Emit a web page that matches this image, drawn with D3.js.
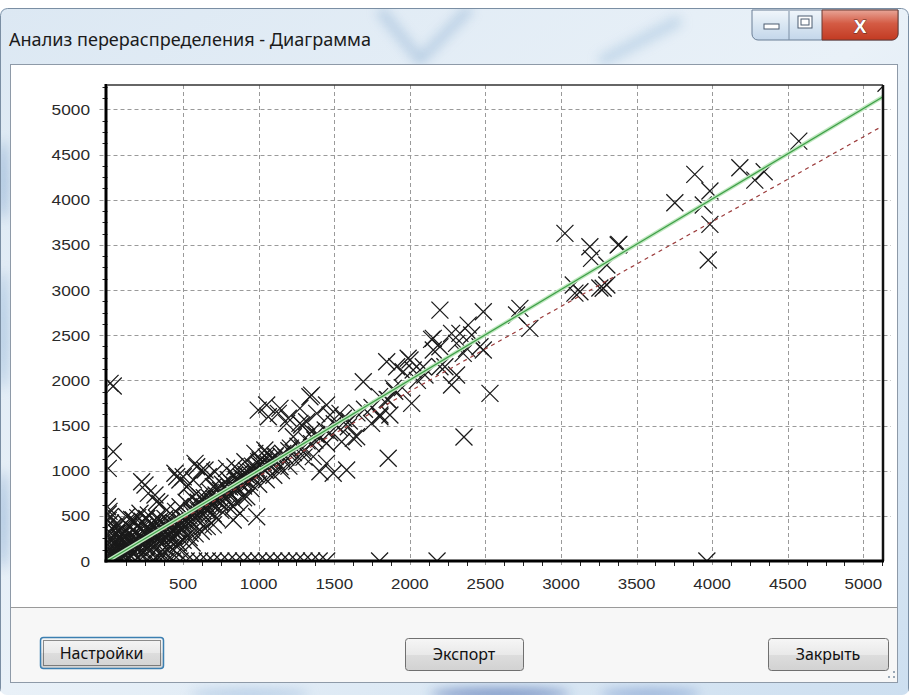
<!DOCTYPE html>
<html><head><meta charset="utf-8">
<script src="https://cdn.jsdelivr.net/npm/d3@7"></script>
<style>body{margin:0;background:#fff}svg{display:block}</style>
</head><body>
<script>
// Scatter of redistribution results: [before, after]
const points = [
  [4573,4649],[3885,4280],[4183,4354],[4344,4310],[4282,4217],[3985,4096],[3753,3966],[3941,3941],
  [3985,3727],[3974,3332],[3383,3505],[3303,3277],[3303,3055],[3257,3022],[3026,3627],[3191,3479],
  [3378,3498],[3202,3351],[3081,3055],[3125,2981],[3279,3019],[3092,2966],[2486,2760],[2728,2797],
  [2706,2723],[2794,2576],[2331,2520],[2386,2612],[2409,2502],[2309,2410],[2199,2778],[2464,2372],
  [2376,2354],[2353,2299],[2276,1948],[2530,1856],[2486,2336],[2199,2372],[2199,2150],[2358,1373],
  [2276,2520],[2144,2454],[2155,2336],[2232,2150],[2309,2059],[2155,2465],[2001,2225],
  [1847,2206],[1913,2150],[1989,2244],[2022,2114],[1956,2095],[2089,2150],[1692,1985],[1890,1911],
  [1857,1782],[2012,1745],[1802,1616],[1868,1616],[1747,1524],[1857,1137],[1802,1597],[1626,1358],
  [1350,1837],[1449,1727],[1053,1727],[1130,1635],[1196,1580],[1273,1690],[1317,1542],[1384,1635],
  [1350,1431],[1472,1616],[1538,1635],[1593,1487],[1648,1376],[1284,1505],[1229,1376],[1372,1339],
  [1449,1303],[1549,1321],[1295,1210],[1361,1155],[1449,1081],[1493,971],[1582,1007],[1405,988],
  [1053,1192],[1108,1155],[1009,1118],[1141,1044],[1141,1690],[1339,1819],[1273,1524],
  [38,1937],[17,1967],[38,1210],[5,1026],[997,1671],[1185,1524],[1064,1597],
  [248,841],[314,731],[458,933],[590,1044],[645,1007],[479,897],[524,822],[347,639],[987,490],
  [876,528],[832,454],[722,473],[634,380],[546,307],[491,343],[832,601],[921,712],[810,749],
  [744,639],[656,564],[612,712],[700,822],[568,897],[38,380],[17,490],[127,490],[171,454],
  [215,528],[270,509],[325,473],[392,564],[61,307],[83,232],
  [226,878],[270,749],[325,656],[446,971],[501,933],[579,1081],[623,1007],[534,841],[667,933],
  [711,988],[788,1026],[843,1044],[909,1099],[975,1192],[1041,1229],
  [10,20],[25,60],[40,30],[55,90],[70,50],[85,120],[100,80],[115,150],[130,100],[145,170],
  [160,130],[175,210],[190,160],[205,230],[220,190],[235,260],[250,220],[265,290],[280,250],
  [295,320],[310,270],[325,340],[340,300],[355,370],[370,330],[385,400],[400,350],
  [20,150],[30,250],[15,320],[50,200],[60,400],[80,350],[100,300],[120,420],[140,380],[160,460],
  [180,420],[200,480],[230,440],[260,470],[290,420],[150,60],[200,120],[250,160],[300,200],
  [350,230],[380,150],[420,260],[440,120],[460,300],[470,200],[200,40],[260,90],[320,120],
  [360,80],[400,180],[120,20],[80,10],[40,5],[30,100],[60,160],[90,220],[110,260],[140,300],
  [170,340],[210,360],[240,380],[270,360],[300,400],[330,420],[350,450],[380,470],
  [5,40],[12,80],[18,130],[22,180],[28,220],[35,280],[42,340],[48,60],[58,120],[66,20],
  [72,190],[78,260],[88,40],[95,150],[105,210],[112,330],[118,70],[125,180],[135,240],[142,40],
  [150,110],[158,280],[165,200],[172,90],[185,250],[195,310],[205,150],[215,270],[225,80],
  [232,330],[245,200],[255,300],[268,140],[276,340],[285,200],[298,260],[305,150],[318,300],
  [330,240],[345,330],[358,190],[368,290],[378,380],[392,260],[405,300],[415,420],[428,340],
  [438,280],[452,360],[465,330],[478,390],[490,420],[505,400],[515,460],[530,480],[545,440],
  [330,60],[380,100],[420,150],[460,180],[500,230],[540,260],[580,300],[620,330],[660,380],
  [700,400],[560,200],[480,120],
  [420,380],[440,420],[460,400],[480,450],[500,470],[520,430],[540,500],[560,520],[580,480],
  [600,560],[620,540],[640,600],[660,580],[680,640],[700,620],[720,680],[740,660],[760,720],
  [780,700],[800,760],[820,740],[840,800],[860,790],[880,850],[900,830],[920,890],[940,870],
  [960,930],[980,960],[1000,980],[1020,1040],[1040,1010],[1060,1080],[1080,1060],[1100,1120],
  [1120,1100],[1150,1160],[1180,1150],[1200,1220],[1230,1200],[1260,1270],[1290,1250],
  [1320,1330],[1350,1300],[1380,1400],[1410,1370],[1440,1450],[1470,1420],[1500,1520],
  [1530,1480],[1560,1580],[1600,1550],[1650,1640],[1700,1680],[1750,1700],[1800,1820],
  [1850,1790],[1900,1880],[1950,1920],[2050,2000],[2100,2060],
  [555,560],[575,540],[590,600],[605,520],[618,620],[630,560],[648,640],[662,610],[675,700],
  [690,660],[705,690],[718,730],[735,700],[748,780],[765,750],[778,820],[792,790],[808,820],
  [822,860],[838,840],[852,900],[868,880],[885,930],[898,910],[915,960],[930,940],[948,990],
  [965,1000],[985,1030],[1005,1060],[1030,1090],[1070,1110],[1110,1170],[1160,1190],[1210,1250],
  [450,550],[480,600],[520,650],[560,700],[600,650],[640,700],[680,760],[720,800],[760,850],
  [800,900],[840,950],[880,980],[920,1000],[960,1050],[1000,1100],[1050,1150],[500,350],
  [550,400],[600,450],[650,480],[700,520],[750,560],[800,600],[850,650],[900,700],[950,800],
  [1000,850],[1050,900],[1100,950],[1150,1000],[1200,1050],[1250,1100],[1300,1150],
  [0,600],[5,450],[10,550],[15,100],[10,200],[20,420],[5,520],
  [260,0],[300,0],[340,0],[390,0],[430,0],[480,0],[520,0],[570,0],[610,0],[660,0],[700,0],
  [750,0],[800,0],[850,0],[900,0],[950,0],[1000,0],[1050,0],[1100,0],[1150,0],[1200,0],
  [1250,0],[1300,0],[1350,0],[1400,0],[1450,0],[1800,0],[2180,0],[3965,0],
  [5150,5290]
];

const xTicks = [500,1000,1500,2000,2500,3000,3500,4000,4500,5000];
const yTicks = [0,500,1000,1500,2000,2500,3000,3500,4000,4500,5000];
const xDomain = [0,5130];
const yDomain = [0,5270];
const fitLine = [[0,0],[5130,5140]];
const refLine = [[0,0],[5100,4790]];

const W = 909, H = 695;
const plot = {left:107.5, right:883, top:85, bottom:561};

const svg = d3.select("body").append("svg").attr("width",W).attr("height",H);
const defs = svg.append("defs");

// window frame glass
const g1 = defs.append("linearGradient").attr("id","glass").attr("x1",0).attr("y1",0).attr("x2",1).attr("y2",1);
g1.append("stop").attr("offset","0%").attr("stop-color","#dce8f3");
g1.append("stop").attr("offset","50%").attr("stop-color","#e9f1f8");
g1.append("stop").attr("offset","100%").attr("stop-color","#cddff0");
defs.append("filter").attr("id","soft").attr("x","-50%").attr("y","-50%").attr("width","200%").attr("height","200%")
  .append("feGaussianBlur").attr("stdDeviation",6);
defs.append("clipPath").attr("id","frameClip").append("rect")
  .attr("x",0).attr("y",8).attr("width",W).attr("height",H-8).attr("rx",7);
defs.append("clipPath").attr("id","plotClip").append("rect")
  .attr("x",plot.left).attr("y",plot.top).attr("width",plot.right-plot.left).attr("height",plot.bottom-plot.top);

svg.append("rect").attr("width",W).attr("height",H).attr("fill","#ffffff");
const frame = svg.append("g").attr("clip-path","url(#frameClip)");
frame.append("rect").attr("x",0).attr("y",8).attr("width",W).attr("height",H-8).attr("fill","url(#glass)");
// glass streaks
const streaks = frame.append("g").attr("filter","url(#soft)").attr("opacity",0.55);
streaks.append("path").attr("d","M380,10 L420,60 L470,8").attr("fill","none").attr("stroke","#8fb1d3").attr("stroke-width",9);
streaks.append("path").attr("d","M600,62 L680,20").attr("fill","none").attr("stroke","#9fbfdc").attr("stroke-width",10);
streaks.append("ellipse").attr("cx",3).attr("cy",180).attr("rx",5).attr("ry",40).attr("fill","#6f98c6");
streaks.append("ellipse").attr("cx",3).attr("cy",330).attr("rx",5).attr("ry",60).attr("fill","#7ea6cf");
streaks.append("ellipse").attr("cx",3).attr("cy",520).attr("rx",5).attr("ry",50).attr("fill","#6f98c6");
streaks.append("ellipse").attr("cx",500).attr("cy",694).attr("rx",70).attr("ry",6).attr("fill","#2c4f9e");
streaks.append("ellipse").attr("cx",650).attr("cy",694).attr("rx",50).attr("ry",5).attr("fill","#5a7fc0");
streaks.append("ellipse").attr("cx",250).attr("cy",694).attr("rx",60).attr("ry",5).attr("fill","#8fb1d8");
frame.append("rect").attr("x",0.5).attr("y",8.5).attr("width",W-1).attr("height",H).attr("rx",7)
  .attr("fill","none").attr("stroke","#7a8ea3").attr("stroke-width",1);

// title
svg.append("text").attr("x",9).attr("y",46)
  .attr("font-family","'Noto Sans', 'Open Sans', sans-serif").attr("font-size",18).attr("fill","#1b1b1b")
  .attr("textLength",362).attr("lengthAdjust","spacingAndGlyphs")
  .text("Анализ перераспределения - Диаграмма");

// caption buttons
const cap = svg.append("g");
const gMin = defs.append("linearGradient").attr("id","capBtn").attr("x1",0).attr("y1",0).attr("x2",0).attr("y2",1);
gMin.append("stop").attr("offset","0%").attr("stop-color","#f1f6fb");
gMin.append("stop").attr("offset","50%").attr("stop-color","#d9e6f2");
gMin.append("stop").attr("offset","100%").attr("stop-color","#c3d6ea");
const gClose = defs.append("linearGradient").attr("id","closeBtn").attr("x1",0).attr("y1",0).attr("x2",0).attr("y2",1);
gClose.append("stop").attr("offset","0%").attr("stop-color","#e8a597");
gClose.append("stop").attr("offset","45%").attr("stop-color","#d45b44");
gClose.append("stop").attr("offset","100%").attr("stop-color","#c23a22");
cap.append("path").attr("d","M752,10 h146 v24 a6,6 0 0 1 -6,6 h-134 a6,6 0 0 1 -6,-6 z")
  .attr("fill","url(#capBtn)").attr("stroke","#6b7f96").attr("stroke-width",1);
cap.append("path").attr("d","M822,10 h76 v24 a6,6 0 0 1 -6,6 h-70 z")
  .attr("fill","url(#closeBtn)").attr("stroke","#6b3a33").attr("stroke-width",1);
cap.append("line").attr("x1",789).attr("x2",789).attr("y1",11).attr("y2",40).attr("stroke","#7d8fa5");
cap.append("rect").attr("x",764).attr("y",24).attr("width",15).attr("height",5).attr("fill","#ffffff").attr("stroke","#4d5d70");
cap.append("rect").attr("x",798).attr("y",16).attr("width",14).attr("height",12).attr("fill","#ffffff").attr("stroke","#4d5d70");
cap.append("rect").attr("x",801).attr("y",19).attr("width",8).attr("height",6).attr("fill","none").attr("stroke","#4d5d70");
cap.append("text").attr("x",860).attr("y",33).attr("text-anchor","middle")
  .attr("font-family","'Liberation Sans', Arial, sans-serif").attr("font-weight","bold").attr("font-size",19)
  .attr("fill","#ffffff").attr("stroke","#5a2a22").attr("stroke-width",0.8).attr("paint-order","stroke").text("X");

// client area
svg.append("rect").attr("x",10.5).attr("y",64.5).attr("width",887).attr("height",618)
  .attr("fill","#ffffff").attr("stroke","#8e9aa8");
svg.append("rect").attr("x",11).attr("y",608).attr("width",886).attr("height",74).attr("fill","#f7f7f7");
svg.append("line").attr("x1",11).attr("x2",897).attr("y1",607.5).attr("y2",607.5).attr("stroke","#9a9a9a");

// scales
const x = d3.scaleLinear().domain(xDomain).range([plot.left, plot.right]);
const y = d3.scaleLinear().domain(yDomain).range([plot.bottom, plot.top]);

const chart = svg.append("g");
// grid
const grid = chart.append("g").attr("stroke","#9a9a9a").attr("stroke-width",1).attr("stroke-dasharray","4,3");
grid.selectAll("line.h").data(yTicks.filter(d=>d>0)).join("line")
  .attr("x1",plot.left-8).attr("x2",plot.right+8)
  .attr("y1",d=>Math.round(y(d))+0.5).attr("y2",d=>Math.round(y(d))+0.5);
grid.selectAll("line.v").data(xTicks).join("line")
  .attr("y1",plot.top).attr("y2",plot.bottom+6)
  .attr("x1",d=>Math.round(x(d))+0.5).attr("x2",d=>Math.round(x(d))+0.5);

// minor ticks
const minorX = d3.range(125, xDomain[1], 125).filter(v=>v%500!==0);
const minorY = d3.range(125, yDomain[1], 125).filter(v=>v%500!==0);
const ticks = chart.append("g").attr("stroke","#222").attr("stroke-width",1);
ticks.selectAll("line.mx").data(minorX).join("line")
  .attr("x1",d=>Math.round(x(d))+0.5).attr("x2",d=>Math.round(x(d))+0.5)
  .attr("y1",plot.bottom).attr("y2",plot.bottom+5);
ticks.selectAll("line.my").data(minorY).join("line")
  .attr("y1",d=>Math.round(y(d))+0.5).attr("y2",d=>Math.round(y(d))+0.5)
  .attr("x1",plot.left-5).attr("x2",plot.left);

// markers
const marks = chart.append("g").attr("clip-path","url(#plotClip)");
marks.selectAll("path").data(points).join("path")
  .attr("transform",d=>`translate(${x(d[0])},${y(d[1])})`)
  .attr("d","M-8.5,-8.5L8.5,8.5M-8.5,8.5L8.5,-8.5")
  .attr("stroke","#1a1a1a").attr("stroke-width",1.25).attr("fill","none");

// reference lines
const line = d3.line().x(d=>x(d[0])).y(d=>y(d[1]));
const lines = chart.append("g").attr("clip-path","url(#plotClip)").attr("fill","none");
lines.append("path").attr("d",line(refLine)).attr("stroke","#9c3c3c").attr("stroke-width",1.2).attr("stroke-dasharray","4,4");
lines.append("path").attr("d",line(fitLine)).attr("stroke","#bfe8bf").attr("stroke-width",4);
lines.append("path").attr("d",line(fitLine)).attr("stroke","#3f9f48").attr("stroke-width",1.2);

// plot border and axes
chart.append("line").attr("x1",plot.left).attr("x2",plot.right).attr("y1",plot.top).attr("y2",plot.top)
  .attr("stroke","#333").attr("stroke-width",1.5);
chart.append("line").attr("x1",plot.right).attr("x2",plot.right).attr("y1",plot.top).attr("y2",plot.bottom)
  .attr("stroke","#111").attr("stroke-width",2.5);
chart.append("line").attr("x1",plot.left-1.5).attr("x2",plot.left-1.5).attr("y1",plot.top-1).attr("y2",plot.bottom+1.5)
  .attr("stroke","#000").attr("stroke-width",3);
chart.append("line").attr("x1",plot.left-3).attr("x2",plot.right+1).attr("y1",plot.bottom).attr("y2",plot.bottom)
  .attr("stroke","#000").attr("stroke-width",3);

// tick labels
const labelFont = "'Liberation Sans', Arial, sans-serif";
chart.append("g").selectAll("text").data(yTicks).join("text")
  .attr("x",90).attr("y",d=>y(d)+5.5).attr("text-anchor","end")
  .attr("font-family",labelFont).attr("font-size",15).attr("fill","#2a2a2a")
  .attr("textLength",d=>String(d).length*9.6).attr("lengthAdjust","spacingAndGlyphs")
  .text(d=>d);
chart.append("g").selectAll("text").data(xTicks).join("text")
  .attr("x",d=>x(d)).attr("y",589).attr("text-anchor","middle")
  .attr("font-family",labelFont).attr("font-size",15).attr("fill","#2a2a2a")
  .attr("textLength",d=>String(d).length*9.4).attr("lengthAdjust","spacingAndGlyphs")
  .text(d=>d);

// dialog buttons
const bg = defs.append("linearGradient").attr("id","btn").attr("x1",0).attr("y1",0).attr("x2",0).attr("y2",1);
bg.append("stop").attr("offset","0%").attr("stop-color","#f6f6f6");
bg.append("stop").attr("offset","50%").attr("stop-color","#e9e9e9");
bg.append("stop").attr("offset","51%").attr("stop-color","#dddddd");
bg.append("stop").attr("offset","100%").attr("stop-color","#d2d2d2");
const buttons = [
  {label:"Настройки", x:40, y:637, w:123, h:31, focus:true},
  {label:"Экспорт", x:405, y:638, w:118, h:32, focus:false},
  {label:"Закрыть", x:768, y:638, w:120, h:32, focus:false}
];
const bgrp = svg.append("g").selectAll("g").data(buttons).join("g");
bgrp.append("rect").attr("x",d=>d.x+0.5).attr("y",d=>d.y+0.5).attr("width",d=>d.w).attr("height",d=>d.h).attr("rx",3)
  .attr("fill","url(#btn)").attr("stroke",d=>d.focus?"#3c7fb1":"#707070").attr("stroke-width",d=>d.focus?1.5:1);
bgrp.filter(d=>d.focus).append("rect").attr("x",d=>d.x+3.5).attr("y",d=>d.y+3.5).attr("width",d=>d.w-6).attr("height",d=>d.h-6)
  .attr("fill","none").attr("stroke","#222").attr("stroke-width",1).attr("stroke-dasharray","1,1");
bgrp.append("text").attr("x",d=>d.x+d.w/2).attr("y",d=>d.y+d.h/2+6).attr("text-anchor","middle")
  .attr("font-family","'Noto Sans', 'Open Sans', sans-serif").attr("font-size",16).attr("fill","#111")
  .text(d=>d.label);

// resize grip
svg.append("g").attr("fill","#9aa8b6").selectAll("rect").data([[893,676],[893,671],[888,676]]).join("rect")
  .attr("x",d=>d[0]).attr("y",d=>d[1]).attr("width",2).attr("height",2);
</script>
</body></html>
